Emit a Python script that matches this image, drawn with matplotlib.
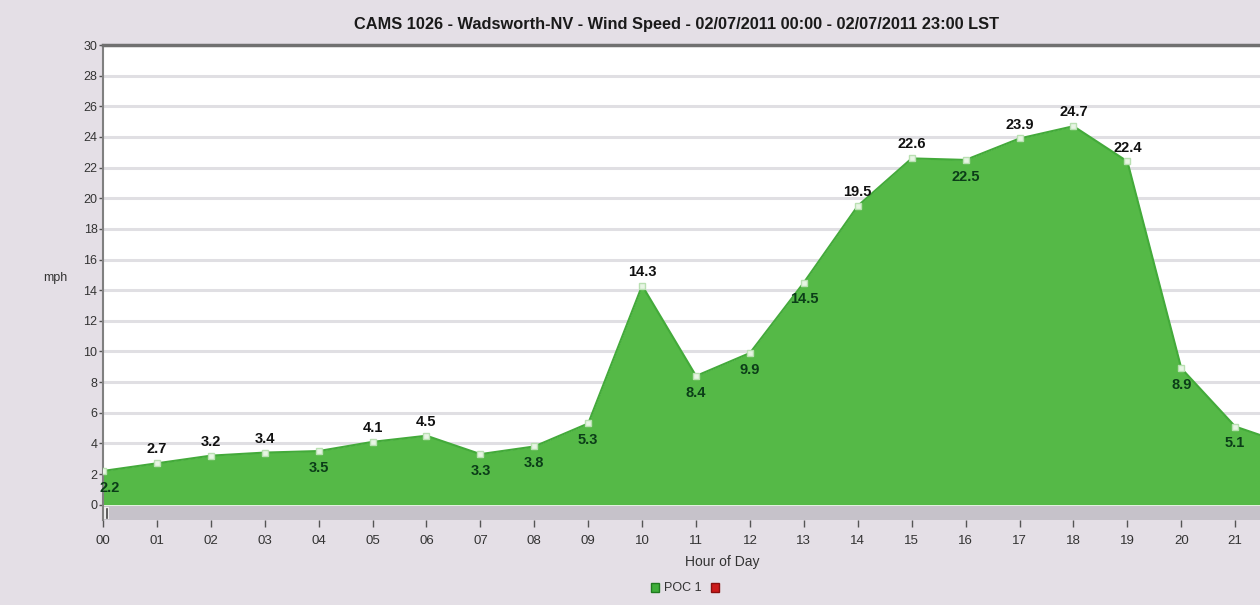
import matplotlib.pyplot as plt
from matplotlib.patches import Rectangle

# dados
horas = list(range(23))
rotulos_x = ["%02d" % h for h in range(22)]
velocidade = [2.2, 2.7, 3.2, 3.4, 3.5, 4.1, 4.5, 3.3, 3.8, 5.3, 14.3, 8.4,
              9.9, 14.5, 19.5, 22.6, 22.5, 23.9, 24.7, 22.4, 8.9, 5.1, 3.9]
# posição do rótulo: 1 = acima, -1 = abaixo
lado = [-1, 1, 1, 1, -1, 1, 1, -1, -1, -1, 1, -1,
        -1, -1, 1, 1, -1, 1, 1, 1, -1, -1, -1]
rotulos_y = list(range(0, 31, 2))

fonte = ['Liberation Sans Narrow', 'Liberation Sans', 'DejaVu Sans']
plt.rcParams['font.family'] = fonte

fundo = "#e4dfe6"
verde = "#55b947"

fig = plt.figure(figsize=(12.6, 6.05), dpi=100, facecolor=fundo)
ax = fig.add_axes([103 / 1260, 1 - 520 / 605, 1157 / 1260, 475 / 605])
ax.set_facecolor("white")

ax.set_xlim(0, 21.46)
ax.set_ylim(-1, 30)

for y in rotulos_y[1:]:
    ax.axhline(y, color="#e0dfe3", lw=2.2, zorder=0)

ax.fill_between(horas, velocidade, 0, color=verde, lw=0, zorder=2)
ax.plot(horas, velocidade, color="#43aa3a", lw=1.5, zorder=3)
ax.plot(horas, velocidade, ls="none", marker="s", ms=5, mfc="#e8f5e4",
        mec="#b9e0b2", mew=1, zorder=4)

# faixa cinza abaixo do zero
ax.add_patch(Rectangle((0, -1), 21.46, 0.92, color="#c6c2ca", lw=0, zorder=1))
ax.add_patch(Rectangle((0.02, -0.95), 0.1, 0.8, color="#eeeeee", lw=0, zorder=1))
ax.plot([0.07, 0.07], [-0.85, -0.25], color="#444444", lw=1.2, zorder=2)

for h, v, s in zip(horas, velocidade, lado):
    if h > 21:
        continue
    if s > 0:
        ax.annotate("%.1f" % v, (h, v), xytext=(0, 5), textcoords="offset points",
                    ha="center", va="bottom", fontsize=10.5, fontweight="bold",
                    color="#111111", zorder=5)
    else:
        ax.annotate("%.1f" % v, (h + (0.12 if h == 0 else 0), v), xytext=(0, -7),
                    textcoords="offset points", ha="center", va="top",
                    fontsize=10.5, fontweight="bold", color="#0b3d18", zorder=5)

ax.set_xticks(range(22))
ax.set_xticklabels(rotulos_x, fontsize=9.5, color="#333333")
ax.set_yticks(rotulos_y)
ax.set_yticklabels([str(y) for y in rotulos_y], fontsize=9, color="#333333")
ax.tick_params(axis="x", length=5, width=1, color="#555555", pad=6)
ax.tick_params(axis="y", length=3, width=1, color="#555555", pad=1)

for lado_eixo in ["right", "bottom"]:
    ax.spines[lado_eixo].set_visible(False)
ax.spines["top"].set_color("#707070")
ax.spines["top"].set_linewidth(2.5)
ax.spines["left"].set_color("#808080")
ax.spines["left"].set_linewidth(1.5)

fig.text(677 / 1260, 1 - 24 / 605,
         "CAMS 1026 - Wadsworth-NV - Wind Speed - 02/07/2011 00:00 - 02/07/2011 23:00 LST",
         ha="center", va="center", fontsize=11.8, fontweight="bold", color="#1a1a1a")
fig.text(55 / 1260, 1 - 278 / 605, "mph", ha="center", va="center",
         fontsize=9, color="#333333")
fig.text(722 / 1260, 1 - 562 / 605, "Hour of Day", ha="center", va="center",
         fontsize=10, color="#333333")

# legenda
fig.patches.append(Rectangle((651 / 1260, 1 - 592 / 605), 8 / 1260, 9 / 605,
                             transform=fig.transFigure, fc="#3fae3a", ec="#1f7a1f",
                             lw=1))
fig.text(664 / 1260, 1 - 588 / 605, "POC 1", ha="left", va="center",
         fontsize=9, color="#333333")
fig.patches.append(Rectangle((711 / 1260, 1 - 592 / 605), 8 / 1260, 9 / 605,
                             transform=fig.transFigure, fc="#cc1a1a", ec="#8a0f0f",
                             lw=1))

plt.savefig("out.png", dpi=100, facecolor=fundo)
plt.close()
